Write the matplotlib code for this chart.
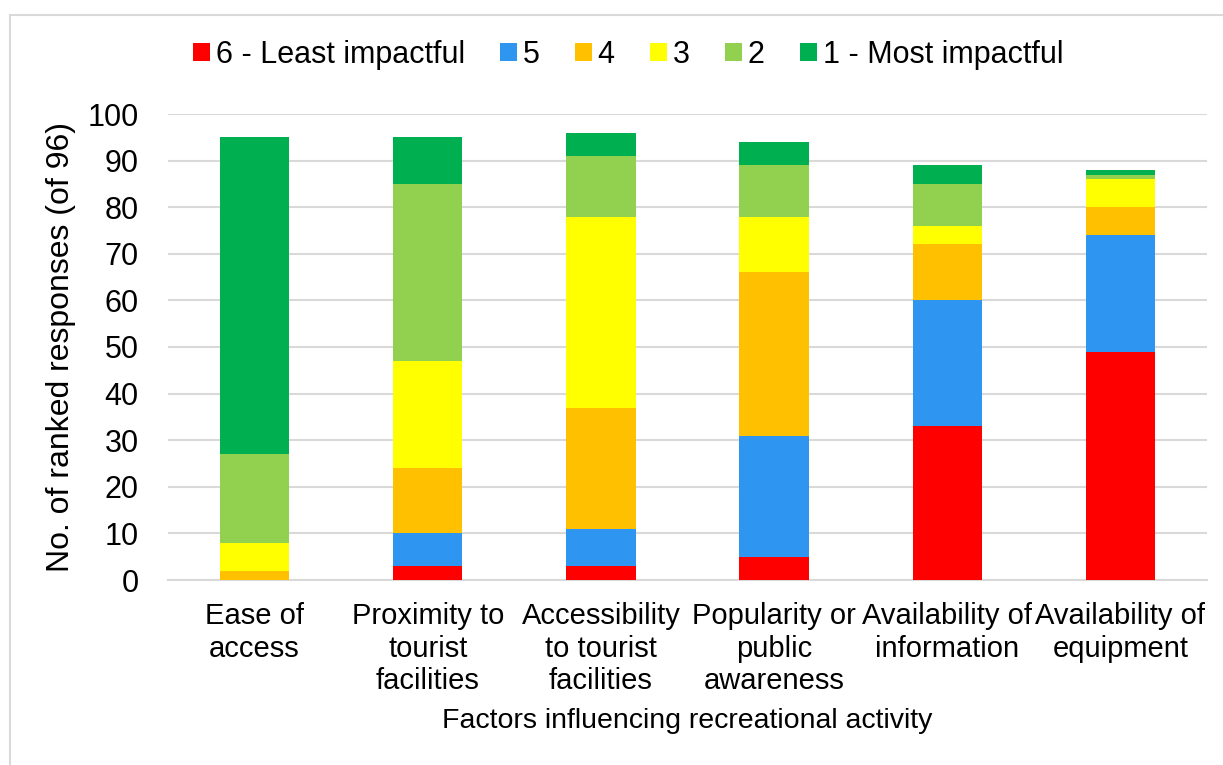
import numpy as np
import matplotlib
matplotlib.use("Agg")
import matplotlib.pyplot as plt
from matplotlib.patches import Rectangle

plt.rcParams['font.family'] = ['Liberation Sans', 'DejaVu Sans']

categories = ["Ease of\naccess", "Proximity to\ntourist\nfacilities", "Accessibility\nto tourist\nfacilities",
              "Popularity or\npublic\nawareness", "Availability of\ninformation", "Availability of\nequipment"]
series_names = ["6 - Least impactful", "5", "4", "3", "2", "1 - Most impactful"]

rank6 = [0, 3, 3, 5, 33, 49]
rank5 = [0, 7, 8, 26, 27, 25]
rank4 = [2, 14, 26, 35, 12, 6]
rank3 = [6, 23, 41, 12, 4, 6]
rank2 = [19, 38, 13, 11, 9, 1]
rank1 = [68, 10, 5, 5, 4, 1]

colors = ["#FF0000", "#2E96F0", "#FFC000", "#FFFF00", "#92D050", "#00B050"]

fig = plt.figure(figsize=(12.23, 7.65), dpi=100)
ax = fig.add_axes([168 / 1223, 1 - 580 / 765, (1207 - 168) / 1223, (580 - 114) / 765])

x = np.arange(len(categories))
bottom = np.zeros(len(categories))
for name, vals, c in zip(series_names, [rank6, rank5, rank4, rank3, rank2, rank1], colors):
    ax.bar(x, vals, bottom=bottom, width=0.4, color=c, label=name, zorder=3)
    bottom += np.array(vals)

ax.set_xlim(-0.5, 5.5)
ax.set_ylim(0, 100)
ax.set_yticks(range(0, 101, 10))
ax.set_xticks(x)
ax.set_xticklabels(categories, fontsize=21, linespacing=1.2)
ax.tick_params(axis='y', labelsize=22, length=0, pad=21)
ax.tick_params(axis='x', length=0, pad=16)
ax.yaxis.grid(True, color="#d9d9d9", linewidth=1.5, zorder=0)
for s in ['top', 'right', 'left']:
    ax.spines[s].set_visible(False)
ax.spines['bottom'].set_color("#d9d9d9")
ax.spines['bottom'].set_linewidth(1.5)

ax.set_ylabel("No. of ranked responses (of 96)", fontsize=23, labelpad=8)
ax.set_xlabel("Factors influencing recreational activity", fontsize=20.5, labelpad=9)

fig.legend(loc='center', bbox_to_anchor=(628 / 1223, 1 - 55 / 765), ncol=6, frameon=False,
           fontsize=22, handlelength=0.55, handleheight=0.55, handletextpad=0.2, columnspacing=1.15)

fig.patches.append(Rectangle((10 / 1223, -0.01), 1.0, 1 - 15 / 765 + 0.01, transform=fig.transFigure,
                             fill=False, edgecolor="#d9d9d9", linewidth=1.5))

fig.savefig("out.png", dpi=100)
